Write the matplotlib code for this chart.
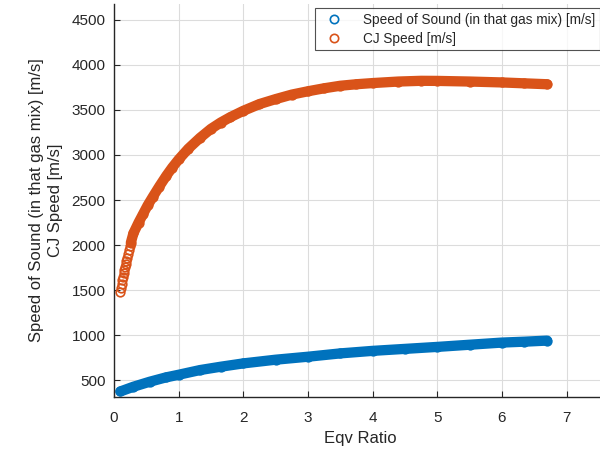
import numpy as np
import matplotlib
matplotlib.use('Agg')
import matplotlib.pyplot as plt
from matplotlib.lines import Line2D

plt.rcParams['font.family'] = ['Liberation Sans', 'DejaVu Sans']

# speed of sound in the gas mix
eqv_sound = [0.1, 0.3, 0.55, 0.8, 1.0, 1.33, 1.65, 2.0, 2.5, 3.0, 3.5, 4.0,
             4.5, 5.0, 5.5, 6.0, 6.35, 6.7]
v_sound = [376, 428, 483, 531, 561, 613, 650, 687, 728, 761, 798, 826,
           848, 870, 894, 918, 928, 940]

# CJ detonation speed
eqv_cj = [0.10, 0.11, 0.12, 0.13, 0.14, 0.15, 0.16, 0.17, 0.18, 0.19, 0.20,
          0.215, 0.23, 0.245, 0.26, 0.30, 0.38, 0.45,
          0.52, 0.60, 0.70, 0.81, 0.90, 1.0, 1.15, 1.33, 1.5, 1.65, 1.8, 2.0,
          2.25, 2.5, 2.75, 3.0, 3.25, 3.5, 3.75, 4.0, 4.4, 4.75, 5.0, 5.5,
          6.0, 6.35, 6.7]
v_cj = [1480, 1525, 1570, 1610, 1650, 1685, 1720, 1755, 1790, 1823, 1855,
        1900, 1945, 1985, 2025, 2130, 2250, 2345,
        2440, 2535, 2650, 2770, 2860, 2950, 3070, 3190, 3290, 3360, 3420, 3490,
        3565, 3620, 3670, 3707, 3740, 3768, 3785, 3798, 3815, 3823, 3822, 3815,
        3805, 3795, 3785]

labels = ['Speed of Sound (in that gas mix) [m/s]', 'CJ Speed [m/s]']
blue = '#0072BD'
orange = '#D95319'
txt = '#262626'

fig = plt.figure(figsize=(6, 4.49), dpi=100)
ax = fig.add_axes([0.19, 0.115, 0.821, 0.877])

# thick band (dense markers in the original) + open circles
ax.plot(eqv_sound, v_sound, '-', color=blue, lw=7.4, solid_capstyle='round')
ax.plot(eqv_sound, v_sound, 'o', color=blue, mfc='none', ms=6.2, mew=1.2)
n0 = eqv_cj.index(0.26)
ax.plot(eqv_cj[n0:], v_cj[n0:], '-', color=orange, lw=7.4, solid_capstyle='round')
ax.plot(eqv_cj, v_cj, 'o', color=orange, mfc='none', ms=6.2, mew=1.2)

ax.set_xlim(0, 7.62)
ax.set_ylim(310, 4680)
ax.set_xticks(range(0, 8))
ax.set_yticks(range(500, 4501, 500))
ax.grid(True, color='#dcdcdc', lw=0.8)
ax.set_axisbelow(True)
for s in ['top', 'right']:
    ax.spines[s].set_visible(False)
for s in ['left', 'bottom']:
    ax.spines[s].set_color(txt)
    ax.spines[s].set_linewidth(1.0)
ax.tick_params(direction='in', length=4, colors=txt, labelsize=11)
ax.tick_params(axis='x', pad=10)
ax.tick_params(axis='y', pad=6)

ax.set_xlabel('Eqv Ratio', fontsize=12, color=txt, labelpad=4)
ax.set_ylabel(labels[0] + '\n' + labels[1], fontsize=12, color=txt,
              labelpad=6, linespacing=1.35, multialignment='center')

handles = [Line2D([], [], ls='none', marker='o', mfc='none', mec=blue, ms=6, mew=1.2),
           Line2D([], [], ls='none', marker='o', mfc='none', mec=orange, ms=6, mew=1.2)]
leg = fig.legend(handles, labels, loc='upper right', bbox_to_anchor=(1.0, 1 - 8 / 449),
                 fontsize=9.8, frameon=True, fancybox=False, borderpad=0.35,
                 handletextpad=1.0, labelspacing=0.35, borderaxespad=0,
                 handlelength=2.2)
leg.get_frame().set_edgecolor(txt)
leg.get_frame().set_linewidth(0.8)
for t in leg.get_texts():
    t.set_color(txt)

fig.savefig('out.png', dpi=100)
